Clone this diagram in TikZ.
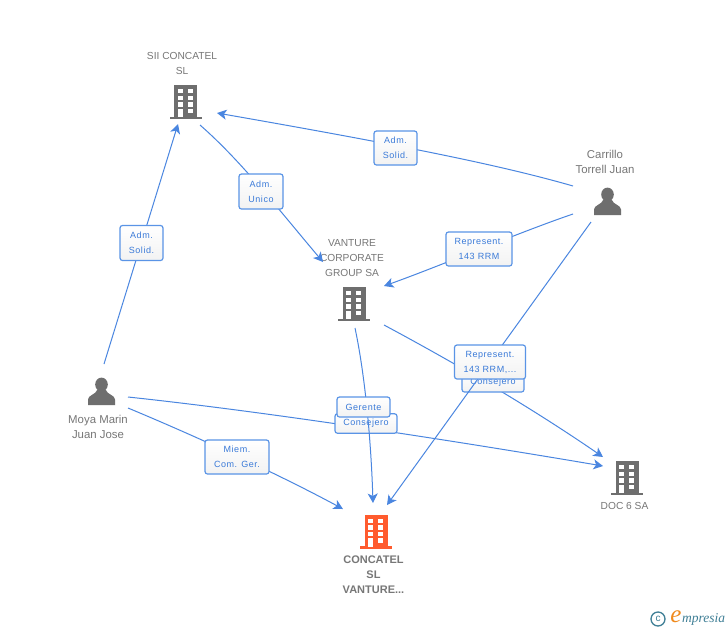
\documentclass[tikz,border=0pt]{standalone}
\usepackage{fontspec}
\setmainfont{Liberation Sans}
\newfontfamily\lblfont[LetterSpace=6]{Liberation Sans}
\newfontfamily\logofont{Liberation Serif}
\newcommand\lowline[1]{\raisebox{-2pt}{#1}}
\usetikzlibrary{arrows.meta}
\definecolor{linkblue}{HTML}{4A86E0}
\definecolor{boxblue}{HTML}{5A94E6}
\definecolor{txtblue}{HTML}{3A7AD8}
\definecolor{icongray}{HTML}{6E6E6E}
\definecolor{txtgray}{HTML}{777777}
\definecolor{mainorange}{HTML}{FF5B2E}
\definecolor{logoteal}{HTML}{3F7F96}
\definecolor{logoorange}{HTML}{F08A1D}
\tikzset{
  x=1pt,y=-1pt,
  link/.style={draw=linkblue,line width=1pt,-{Stealth[length=9.5pt,width=10pt,inset=2.5pt]}},
  rolebox/.style={draw=boxblue,line width=1.2pt,rounded corners=2.5pt,top color=white,bottom color=black!5,
    inner sep=0pt,align=center,text=txtblue,font=\lblfont\fontsize{9}{15}\selectfont},
  anchorpt/.style={inner sep=0pt,minimum size=2pt},
  name text/.style={inner sep=0pt,align=center,text=txtgray,font=\fontsize{10.2}{15}\selectfont},
  person text/.style={inner sep=0pt,align=center,text=txtgray,font=\fontsize{11.4}{15}\selectfont},
  main text/.style={inner sep=0pt,align=center,text=txtgray,font=\bfseries\fontsize{11}{15}\selectfont},
  pics/bldg/.style={code={
    \fill[#1] (-11.5,-16.5) rectangle (11.5,15.5);
    \fill[#1] (-16,15) rectangle (16,17.5);
    \foreach \yy/\zz in {-12.5/-8.5,-6/-1.5,0.5/5}{
      \fill[white] (-8,\yy) rectangle (-3,\zz);
      \fill[white] (2,\yy) rectangle (7,\zz);
    }
    \fill[white] (-8,7) rectangle (-3,15.5);
    \fill[white] (2,7) rectangle (7,11.5);
  }},
  pics/person/.style={code={
    \fill[icongray] (0,-7) ellipse (6.3 and 6.9);
    \fill[icongray] (-13.5,13.5) -- (-13.5,8) .. controls (-13.5,3.5) and (-6,3.5) .. (-4,-2)
      -- (4,-2) .. controls (6,3.5) and (13.5,3.5) .. (13.5,8) -- (13.5,13.5) -- cycle;
  }},
}
\begin{document}
\begin{tikzpicture}
\useasboundingbox[fill=white] (0,0) rectangle (728,630);

% icons
\node[anchorpt] (sii) at (185.5,101.5) {};
\node[anchorpt] (vanture) at (354,303.5) {};
\node[anchorpt] (doc) at (627,477.5) {};
\node[anchorpt] (concatel) at (376,531) {};
\node[anchorpt] (moya) at (101.5,391.5) {};
\node[anchorpt] (carrillo) at (607.5,201.5) {};
\pic at (sii) {bldg=icongray};
\pic at (vanture) {bldg=icongray};
\pic at (doc) {bldg=icongray};
\pic at (concatel) {bldg=mainorange};
\pic at (moya) {person};
\pic at (carrillo) {person};

% names
\node[name text] (siit) at (182,63.5) {SII CONCATEL\\SL};
\node[name text] (vant) at (352,258) {VANTURE\\CORPORATE\\GROUP SA};
\node[name text] (doct) at (624.5,506) {DOC 6 SA};
\node[person text] (moyat) at (98,426.5) {Moya Marin\\Juan Jose};
\node[person text] (carrt) at (605,161.5) {Carrillo\\Torrell Juan};
\node[main text] (conct) at (373.5,575) {CONCATEL\\SL\\VANTURE...};

% connectors under every label
\draw[link] ([shift={(2.5,-27.5)}]moya.center) -- ([shift={(-7.5,22.5)}]sii.center);
\draw[link] ([shift={(14.5,23.5)}]sii.center) .. controls (240,160) and (275,205) .. ([shift={(-31,-41.5)}]vanture.center);
\draw[link] ([shift={(-34.5,-15.5)}]carrillo.center) .. controls (500,165) and (400,145) .. ([shift={(31.5,11.5)}]sii.center);
\draw[link] ([shift={(-34.5,12.5)}]carrillo.center) .. controls (520,232) and (440,266) .. ([shift={(30,-17.5)}]vanture.center);
\draw[link] ([shift={(30,21.5)}]vanture.center) .. controls (440,355) and (520,400) .. ([shift={(-24,-20.5)}]doc.center);
\draw[link] ([shift={(26.5,5.5)}]moya.center) .. controls (250,410) and (420,435) .. ([shift={(-24,-11.5)}]doc.center);
\draw[link] ([shift={(26.5,16.5)}]moya.center) .. controls (200,438) and (280,475) .. ([shift={(-33,-22)}]concatel.center);

\node[rolebox,minimum width=43pt,minimum height=35pt] (l1) at (141.5,243) {\lowline{Adm.}\\\lowline{Solid.}};
\node[rolebox,minimum width=44pt,minimum height=35pt] (l2) at (261,191.5) {\lowline{Adm.}\\\lowline{Unico}};
\node[rolebox,minimum width=43pt,minimum height=34pt] (l3) at (395.5,148) {\lowline{Adm.}\\\lowline{Solid.}};
\node[rolebox,minimum width=66pt,minimum height=34pt] (l4) at (479,249) {\lowline{Represent.}\\\lowline{143 RRM}};
\node[rolebox,minimum width=64pt,minimum height=34pt] (l5) at (237,457) {\lowline{Miem.}\\\lowline{Com. Ger.}};
\node[rolebox,minimum width=62pt,minimum height=20pt] (l6) at (493,382) {\lowline{Consejero}};
\node[rolebox,minimum width=62pt,minimum height=19.5pt] (l7) at (366,423.5) {\lowline{Consejero}};

% connectors over the Consejero labels, under the top labels
\draw[link] ([shift={(1,24.5)}]vanture.center) .. controls (365,375) and (371,440) .. ([shift={(-3,-28)}]concatel.center);
\draw[link] ([shift={(-16.5,20.5)}]carrillo.center) -- ([shift={(11,-26)}]concatel.center);

\node[rolebox,minimum width=53pt,minimum height=20pt] (l8) at (363.5,407) {\lowline{Gerente}};
\node[rolebox,minimum width=71pt,minimum height=34pt] (l9) at (490,362) {\lowline{Represent.}\\\lowline{143 RRM,...}};

% logo
\node[circle,draw=logoteal,line width=1.3pt,minimum size=14pt,inner sep=0pt,text=logoteal,font=\fontsize{10}{10}\selectfont] (copy) at (658,619) {c};
\node[inner sep=0pt,text=logoorange,font=\logofont\itshape\fontsize{25}{25}\selectfont] (loge) at (676,617) {e};
\node[inner sep=0pt,anchor=west,text=logoteal,font=\logofont\itshape\fontsize{13.5}{13.5}\selectfont] (logt) at (682,619) {mpresia};
\end{tikzpicture}
\end{document}
